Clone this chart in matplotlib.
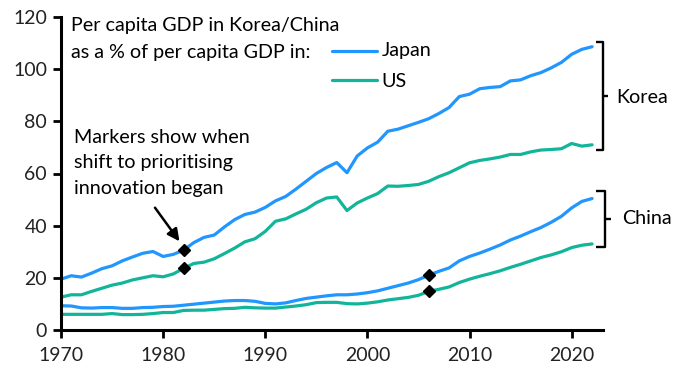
import matplotlib
matplotlib.use("Agg")
import matplotlib.pyplot as plt
import numpy as np

plt.rcParams['font.family'] = ['Lato', 'DejaVu Sans']

years = list(range(1970, 2023))

korea_japan = [19.5, 20.8, 20.3, 21.8, 23.5, 24.6, 26.5, 28.0, 29.4, 30.1,
               28.2, 29.0, 30.6, 33.5, 35.5, 36.4, 39.5, 42.3, 44.3, 45.2,
               47.0, 49.5, 51.2, 54.0, 57.0, 60.0, 62.3, 64.2, 60.3, 66.7,
               69.8, 72.0, 76.2, 77.0, 78.3, 79.6, 81.0, 83.0, 85.3, 89.5,
               90.4, 92.5, 93.0, 93.3, 95.5, 95.9, 97.5, 98.7, 100.5, 102.6,
               105.7, 107.6, 108.6]
korea_us = [12.6, 13.5, 13.5, 14.8, 16.0, 17.2, 18.0, 19.2, 20.0, 20.8,
            20.4, 21.5, 23.6, 25.5, 26.0, 27.3, 29.3, 31.4, 33.8, 35.0,
            37.8, 41.7, 42.6, 44.5, 46.3, 48.8, 50.6, 51.0, 45.8, 48.7,
            50.6, 52.3, 55.2, 55.1, 55.4, 55.8, 57.0, 58.8, 60.3, 62.2,
            64.1, 65.0, 65.6, 66.3, 67.3, 67.3, 68.3, 69.0, 69.2, 69.5,
            71.5, 70.5, 71.0]
china_japan = [9.3, 9.2, 8.5, 8.4, 8.6, 8.6, 8.3, 8.3, 8.6, 8.7,
               9.0, 9.1, 9.5, 9.9, 10.3, 10.7, 11.1, 11.3, 11.3, 11.0,
               10.2, 10.0, 10.4, 11.3, 12.1, 12.6, 13.1, 13.5, 13.5, 13.8,
               14.3, 15.0, 16.0, 17.0, 18.0, 19.3, 21.0, 22.5, 23.8, 26.5,
               28.2, 29.5, 31.0, 32.6, 34.5, 36.0, 37.7, 39.3, 41.3, 43.6,
               46.8, 49.3, 50.4]
china_us = [6.0, 6.0, 6.0, 6.0, 6.0, 6.3, 5.9, 5.9, 6.0, 6.3,
            6.7, 6.7, 7.5, 7.6, 7.6, 7.9, 8.2, 8.3, 8.7, 8.5,
            8.4, 8.4, 8.8, 9.2, 9.7, 10.5, 10.6, 10.6, 10.1, 10.0,
            10.3, 10.8, 11.5, 12.0, 12.5, 13.3, 14.8, 15.6, 16.5, 18.2,
            19.5, 20.6, 21.6, 22.7, 24.0, 25.2, 26.5, 27.8, 28.8, 30.0,
            31.6, 32.5, 33.0]

korea_start = 1982
china_start = 2006

x_ticks = [1970, 1980, 1990, 2000, 2010, 2020]
y_ticks = [0, 20, 40, 60, 80, 100, 120]

blue = '#2196ff'
green = '#12b59a'

fig = plt.figure(figsize=(6.84, 3.78), dpi=100)
ax = fig.add_axes([61/684, 1-330/378, (603.3-61)/684, (330-17)/378])

lw = 2.3
for s, c in [(korea_japan, blue), (korea_us, green), (china_japan, blue), (china_us, green)]:
    ax.plot(years, s, color=c, lw=lw, solid_capstyle='round', zorder=2)

for yr in (korea_start, china_start):
    i = years.index(yr)
    src = [korea_japan, korea_us] if yr == korea_start else [china_japan, china_us]
    for s in src:
        ax.plot(yr, s[i], marker='D', color='black', markersize=6.5, zorder=3, clip_on=False)

ax.set_xlim(1970, 2023.1)
ax.set_ylim(0, 120)
ax.set_xticks(x_ticks)
ax.set_yticks(y_ticks)
for sp in ['top', 'right']:
    ax.spines[sp].set_visible(False)
for sp in ['left', 'bottom']:
    ax.spines[sp].set_linewidth(2.2)
ax.tick_params(axis='both', width=2, length=6, labelsize=14, colors='black', pad=4)
ax.tick_params(axis='x', pad=6)
for lab in ax.get_xticklabels() + ax.get_yticklabels():
    lab.set_color('#222222')

fs = 14.2
ax.text(1971.0, 114.6, 'Per capita GDP in Korea/China', fontsize=fs, va='baseline', ha='left')
ax.text(1971.0, 104.2, 'as a % of per capita GDP in:', fontsize=fs, va='baseline', ha='left')

ax.plot([1996.5, 2000.9], [107.0, 107.0], color=blue, lw=lw, solid_capstyle='round')
ax.plot([1996.5, 2000.9], [95.9, 95.9], color=green, lw=lw, solid_capstyle='round')
ax.text(2001.4, 104.9, 'Japan', fontsize=fs, va='baseline', ha='left')
ax.text(2001.4, 93.3, 'US', fontsize=fs, va='baseline', ha='left')

ax.text(1971.3, 71.8, 'Markers show when', fontsize=fs, va='baseline', ha='left')
ax.text(1971.3, 62.2, 'shift to prioritising', fontsize=fs, va='baseline', ha='left')
ax.text(1971.3, 52.2, 'innovation began', fontsize=fs, va='baseline', ha='left')

ax.annotate('', xy=(1981.6, 34.0), xytext=(1979.2, 46.9),
            arrowprops=dict(arrowstyle='-|>', lw=1.8, color='black', mutation_scale=18,
                            shrinkA=0, shrinkB=0))

def bracket(xl, xv, xr, top, bot, mid):
    kw = dict(color='black', lw=1.7, clip_on=False, solid_capstyle='butt')
    ax.plot([xl, xv, xv, xl], [top, top, bot, bot], **kw)
    ax.plot([xv, xr], [mid, mid], **kw)

bracket(2022.4, 2023.1, 2023.6, 110.5, 69.2, 89.7)
bracket(2022.4, 2023.3, 2023.9, 53.2, 31.7, 42.7)
ax.text(2024.4, 87.2, 'Korea', fontsize=fs, va='baseline', ha='left')
ax.text(2024.95, 40.7, 'China', fontsize=fs, va='baseline', ha='left')

fig.savefig('out.png', dpi=100)
